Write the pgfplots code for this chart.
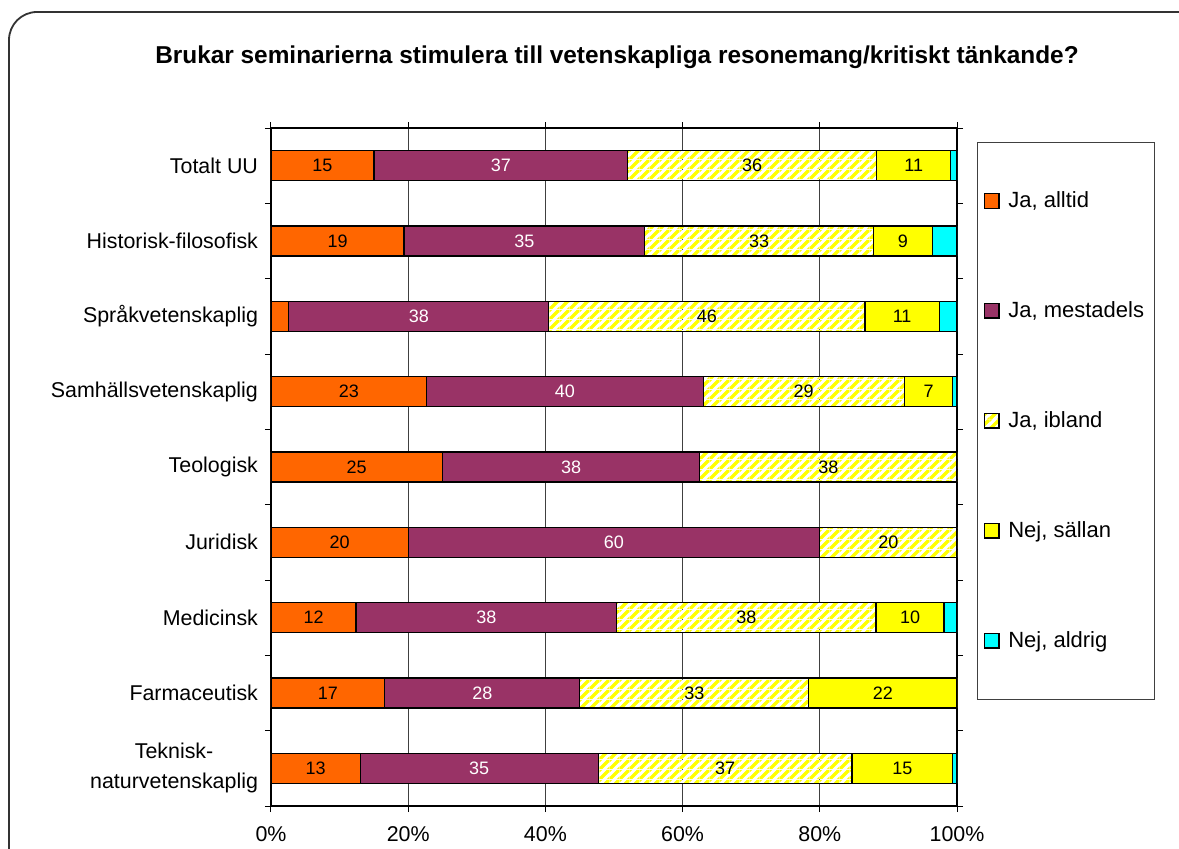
\documentclass[border=0pt]{standalone}
\usepackage{fontspec}
\setmainfont{Liberation Sans}
\usepackage{pgfplots}
\pgfplotsset{compat=1.18}
\usetikzlibrary{patterns}
\definecolor{cOr}{HTML}{FF6600}
\definecolor{cPu}{HTML}{993366}
\definecolor{cYe}{HTML}{FFFF00}
\definecolor{cCy}{HTML}{00FFFF}
\pgfdeclarepatterninherentlycolored{yhatch}{\pgfpointorigin}{\pgfpoint{5pt}{5pt}}{\pgfpoint{5pt}{5pt}}{%
  \pgfsetfillcolor{white}%
  \pgfpathrectangle{\pgfpointorigin}{\pgfpoint{5pt}{5pt}}\pgfusepath{fill}%
  \pgfsetfillcolor{cYe}%
  \pgfpathmoveto{\pgfpoint{0pt}{0pt}}\pgfpathlineto{\pgfpoint{1.25pt}{0pt}}\pgfpathlineto{\pgfpoint{5pt}{3.75pt}}%
  \pgfpathlineto{\pgfpoint{5pt}{5pt}}\pgfpathlineto{\pgfpoint{3.75pt}{5pt}}\pgfpathlineto{\pgfpoint{0pt}{1.25pt}}\pgfpathclose
  \pgfpathmoveto{\pgfpoint{3.75pt}{0pt}}\pgfpathlineto{\pgfpoint{5pt}{0pt}}\pgfpathlineto{\pgfpoint{5pt}{1.25pt}}\pgfpathclose
  \pgfpathmoveto{\pgfpoint{0pt}{3.75pt}}\pgfpathlineto{\pgfpoint{0pt}{5pt}}\pgfpathlineto{\pgfpoint{1.25pt}{5pt}}\pgfpathclose
  \pgfusepath{fill}%
}
\begin{document}
\begin{tikzpicture}[x=0.5pt,y=-0.5pt]
\useasboundingbox (0,0) rectangle (1179,849);
\draw[line width=0.9pt, rounded corners=14pt, black!80] (9,12) rectangle (1210,885);
\node[font=\bfseries\fontsize{12.2}{14}\selectfont] at (617,57) {Brukar seminarierna stimulera till vetenskapliga resonemang/kritiskt tänkande?};
\begin{axis}[
  at={(135.5pt,-403pt)}, anchor=south west,
  scale only axis, width=343pt, height=339pt,
  xbar stacked, bar width=15pt,
  xmin=0, xmax=100, ymin=-0.5, ymax=8.5, y dir=reverse,
  xtick={0,20,...,100}, xticklabels={0\%,20\%,40\%,60\%,80\%,100\%},
  xticklabel style={yshift=-3.5pt},
  xmajorgrids, major grid style={black!75, line width=0.5pt},
  ytick={-0.5,0.5,...,8.5}, yticklabels={},
  extra y ticks={0,1,2,3,4,5,6,7,8},
  extra y tick labels={Totalt UU,Historisk-filosofisk,Språkvetenskaplig,Samhällsvetenskaplig,Teologisk,Juridisk,Medicinsk,Farmaceutisk,Teknisk-\\naturvetenskaplig},
  extra y tick style={major tick length=0pt, yticklabel style={xshift=-3pt}},
  tick align=outside, major tick length=3pt,
  tick style={black, line width=0.5pt},
  axis line style={black, line width=0.6pt},
  tick label style={font=\fontsize{10.7}{15}\selectfont},
  yticklabel style={align=center},
  point meta=explicit symbolic,
  nodes near coords,
  every node near coord/.append style={font=\fontsize{9}{10}\selectfont, black},
  legend style={at={(1.0292,0.9794)}, anchor=north west, draw=black!75, line width=0.5pt, fill=white,
    inner xsep=3pt, inner ysep=22.5pt, row sep=41.5pt, font=\fontsize{11}{13}\selectfont},
  legend cell align=left,
  legend image code/.code={\draw[#1, line width=0.6pt] (0pt,-3.6pt) rectangle (7.4pt,3.6pt); \path (9.8pt,0pt);},
]
\addplot[fill=cOr, draw=black, line width=0.6pt] coordinates {
 (15.0,0) [15] (19.4,1) [19] (2.6,2) [] (22.7,3) [23] (25.0,4) [25]
 (20.0,5) [20] (12.4,6) [12] (16.6,7) [17] (13.0,8) [13]};
\addplot[fill=cPu, draw=black, line width=0.6pt, every node near coord/.append style={white}] coordinates {
 (37.0,0) [37] (35.1,1) [35] (37.9,2) [38] (40.3,3) [40] (37.5,4) [38]
 (60.0,5) [60] (38.0,6) [38] (28.4,7) [28] (34.7,8) [35]};
\addplot[pattern=yhatch, draw=black, line width=0.6pt] coordinates {
 (36.3,0) [36] (33.3,1) [33] (46.1,2) [46] (29.3,3) [29] (37.5,4) [38]
 (20.0,5) [20] (37.8,6) [38] (33.4,7) [33] (37.0,8) [37]};
\addplot[fill=cYe, draw=black, line width=0.6pt] coordinates {
 (10.8,0) [11] (8.6,1) [9] (10.8,2) [11] (7.1,3) [7] (0,4) []
 (0,5) [] (9.9,6) [10] (21.6,7) [22] (14.7,8) [15]};
\addplot[fill=cCy, draw=black, line width=0.6pt] coordinates {
 (0.9,0) [] (3.6,1) [] (2.6,2) [] (0.6,3) [] (0,4) []
 (0,5) [] (1.9,6) [] (0,7) [] (0.6,8) []};
\legend{{Ja, alltid},{Ja, mestadels},{Ja, ibland},{Nej, sällan},{Nej, aldrig}}
\end{axis}
\end{tikzpicture}
\end{document}
